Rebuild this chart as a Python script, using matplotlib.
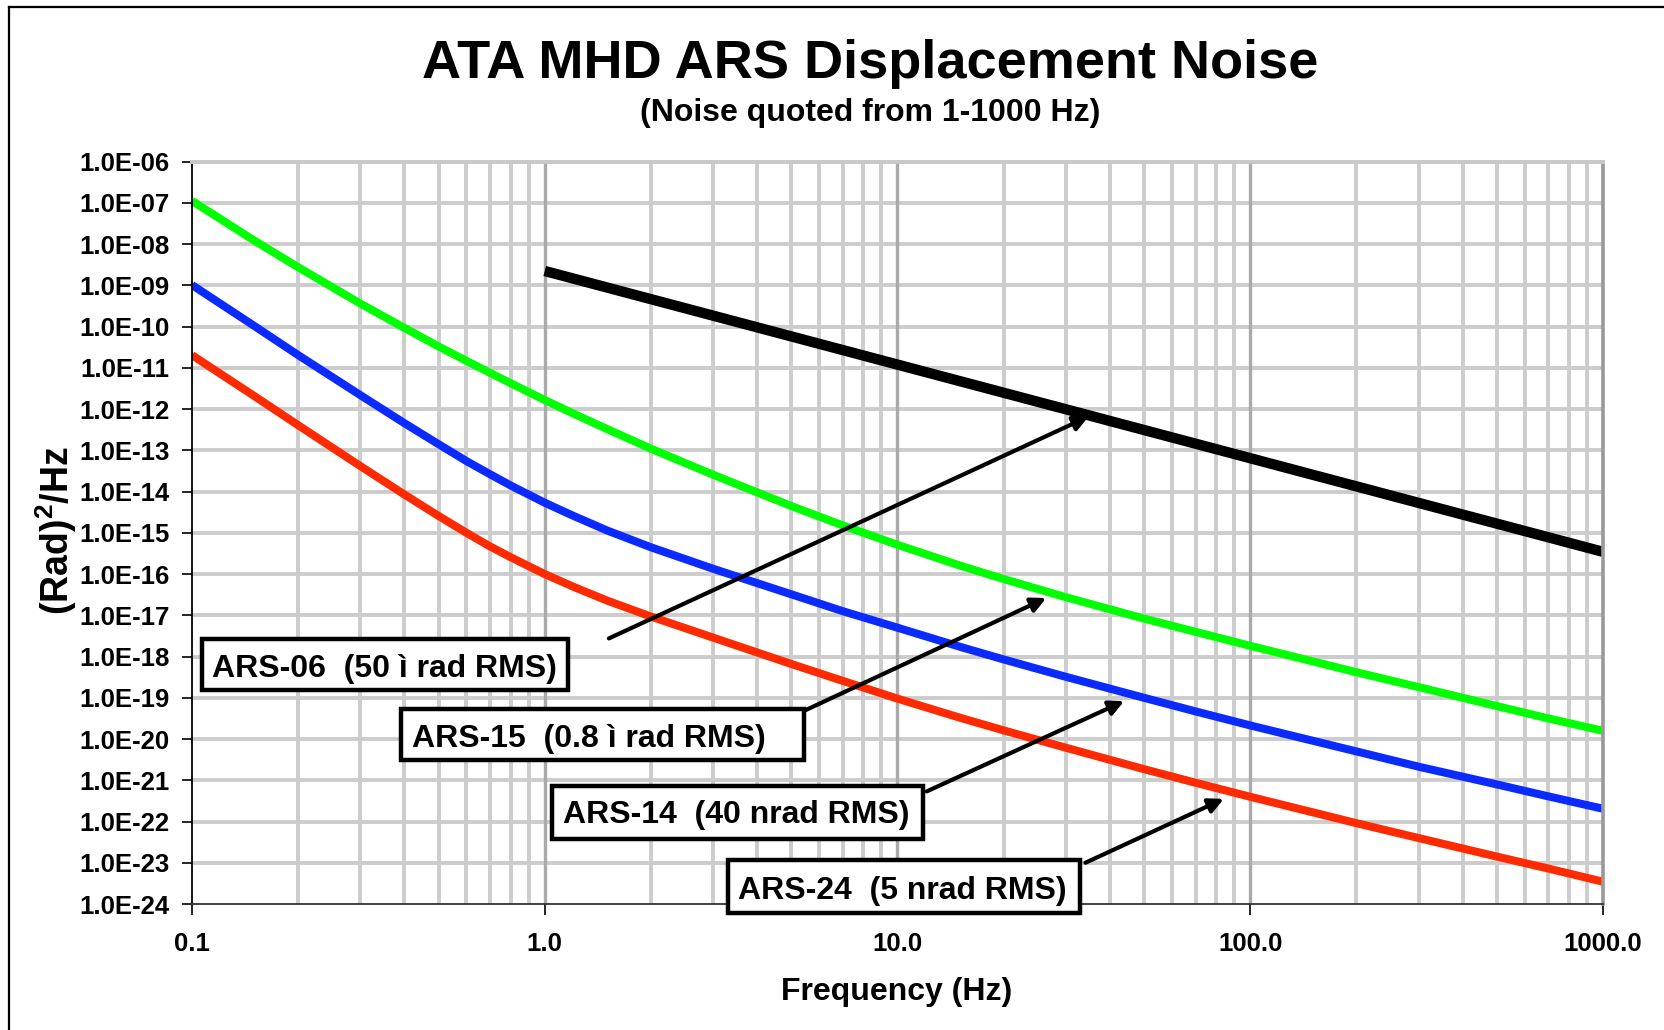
import numpy as np
import matplotlib
matplotlib.use("Agg")
import matplotlib.pyplot as plt
from matplotlib.patches import Rectangle
from matplotlib.lines import Line2D
from matplotlib.ticker import FixedLocator, FixedFormatter, FuncFormatter, NullFormatter

plt.rcParams["font.family"] = ["Liberation Sans", "DejaVu Sans"]
plt.rcParams["font.weight"] = "bold"
plt.rcParams["mathtext.fontset"] = "custom"
plt.rcParams["mathtext.rm"] = "Liberation Sans:bold"
plt.rcParams["mathtext.bf"] = "Liberation Sans:bold"

# ========= data (log10 of PSD) =========

freq = [0.1, 0.15, 0.2, 0.3, 0.4, 0.5, 0.6, 0.7, 0.8, 1, 1.2, 1.5, 2, 3, 5, 7,
        10, 15, 20, 30, 50, 70, 100, 200, 300, 500, 700, 1000]

ars06_freq = [1, 10, 100, 1000]
ars06_log = [-8.65, -10.92, -13.19, -15.46]

ars15_log = [-6.95, -7.91, -8.56, -9.44, -10.03, -10.48, -10.83, -11.12, -11.37,
             -11.78, -12.10, -12.48, -12.96, -13.59, -14.35, -14.82, -15.29,
             -15.79, -16.12, -16.56, -17.08, -17.40, -17.74, -18.38, -18.74,
             -19.20, -19.50, -19.80]
ars14_log = [-8.99, -9.98, -10.69, -11.66, -12.34, -12.85, -13.26, -13.58, -13.85,
             -14.27, -14.58, -14.94, -15.35, -15.87, -16.49, -16.90, -17.30,
             -17.76, -18.07, -18.49, -19.00, -19.33, -19.67, -20.30, -20.67,
             -21.10, -21.39, -21.69]
ars24_log = [-10.69, -11.68, -12.39, -13.38, -14.07, -14.59, -15.00, -15.33, -15.59,
             -16.00, -16.30, -16.64, -17.03, -17.54, -18.18, -18.59, -19.02,
             -19.48, -19.79, -20.21, -20.73, -21.06, -21.40, -22.04, -22.40,
             -22.85, -23.14, -23.46]

x_ticks = [0.1, 1, 10, 100, 1000]
x_labels = ["0.1", "1.0", "10.0", "100.0", "1000.0"]
y_exps = list(range(-24, -5))

labels = ["ARS-06  (50 ì rad RMS)", "ARS-15  (0.8 ì rad RMS)",
          "ARS-14  (40 nrad RMS)", "ARS-24  (5 nrad RMS)"]
# arrow start / end in data coords (freq, log10 psd)
arrow_start = [(1.52, -17.56), (5.36, -19.34), (12.1, -21.27), (34.1, -23.0)]
arrow_end = [(34.8, -12.18), (26.4, -16.58), (43.9, -19.08), (84.1, -21.45)]

# ========= layout (figure pixels) =========
W, H = 1665, 1030
# label boxes: left, top, right, bottom ; text left x, text centre y
boxes = [(202, 639, 568, 690, 212, 665),
         (401, 709, 804, 760, 412, 735),
         (552, 786, 923, 839, 563, 812),
         (728, 860, 1080, 913, 738, 887)]


def fx(px):
    return px / W


def fy(py):
    return 1 - py / H


fig = plt.figure(figsize=(W / 100, H / 100), dpi=100)
ax = fig.add_axes([fx(192), fy(904), fx(1603) - fx(192), fy(161.7) - fy(904)])

ax.set_xscale("log")
ax.set_yscale("log")
ax.set_xlim(0.1, 1000)
ax.set_ylim(1e-24, 1e-6)

# grid
for e in y_exps[1:]:
    ax.axhline(10.0 ** e, color="#cccccc", lw=2.8, zorder=0.5)
for d in [0.1, 1, 10, 100]:
    for m in range(2, 10):
        ax.axvline(d * m, color="#cccccc", lw=2.8, zorder=0.5)
for d in [1, 10, 100]:
    ax.axvline(d, color="#aaaaaa", lw=2.4, zorder=0.6)

ax.plot(freq, 10.0 ** np.array(ars15_log), color="#00ff00", lw=5.8, solid_capstyle="butt", zorder=2)
ax.plot(freq, 10.0 ** np.array(ars14_log), color="#0a2aff", lw=5.8, solid_capstyle="butt", zorder=2)
ax.plot(freq, 10.0 ** np.array(ars24_log), color="#ff2a00", lw=5.8, solid_capstyle="butt", zorder=2)
ax.plot(ars06_freq, 10.0 ** np.array(ars06_log), color="black", lw=7.5, solid_capstyle="butt", zorder=2.1)

# spines
ax.spines["top"].set_color("#c8c8c8")
ax.spines["top"].set_linewidth(2.8)
ax.spines["right"].set_color("#999999")
ax.spines["right"].set_linewidth(2.6)
ax.spines["left"].set_color("black")
ax.spines["left"].set_linewidth(1.3)
ax.spines["bottom"].set_color("#333333")
ax.spines["bottom"].set_linewidth(1.3)

ax.xaxis.set_major_locator(FixedLocator(x_ticks))
ax.xaxis.set_major_formatter(FixedFormatter(x_labels))
ax.xaxis.set_minor_locator(FixedLocator([]))
ax.xaxis.set_minor_formatter(NullFormatter())
ax.yaxis.set_major_locator(FixedLocator([10.0 ** e for e in y_exps]))
ax.yaxis.set_major_formatter(FuncFormatter(lambda v, p: f"{v:.1E}"))
ax.yaxis.set_minor_locator(FixedLocator([]))
ax.yaxis.set_minor_formatter(NullFormatter())
ax.tick_params(axis="x", direction="out", length=8, width=1.2, pad=12, labelsize=18.5)
ax.tick_params(axis="y", direction="out", length=7, width=1.2, pad=9, labelsize=18.5)

# arrows
for (x0, y0), (x1, y1) in zip(arrow_start, arrow_end):
    ax.annotate("", xy=(x1, 10.0 ** y1), xytext=(x0, 10.0 ** y0),
                arrowprops=dict(arrowstyle="-|>", color="black", lw=3,
                                mutation_scale=22, shrinkA=0, shrinkB=0),
                zorder=3)

# label boxes
for text, (l, t, r, b, tx, ty) in zip(labels, boxes):
    fig.add_artist(Rectangle((fx(l), fy(b)), fx(r) - fx(l), fy(t) - fy(b),
                             transform=fig.transFigure, facecolor="white",
                             edgecolor="black", lw=3.2, zorder=5))
    fig.text(fx(tx), fy(ty), text, fontsize=23, fontweight="bold",
             ha="left", va="center_baseline", zorder=6)

# titles and axis labels
fig.text(fx(870), fy(64), "ATA MHD ARS Displacement Noise", fontsize=39,
         fontweight="bold", ha="center", va="center")
fig.text(fx(870), fy(113), "(Noise quoted from 1-1000 Hz)", fontsize=23,
         fontweight="bold", ha="center", va="center")
fig.text(fx(897), fy(992), "Frequency (Hz)", fontsize=23,
         fontweight="bold", ha="center", va="center")
fig.text(fx(56), fy(531), r"(Rad)$^{\mathbf{2}}$/Hz", fontsize=27,
         fontweight="bold", ha="center", va="center", rotation=90)

# outer frame (top and left edge only visible)
fig.add_artist(Line2D([fx(9.5), 1], [fy(6.7), fy(6.7)], color="black", lw=1.6,
                      transform=fig.transFigure))
fig.add_artist(Line2D([fx(9.5), fx(9.5)], [0, fy(6.7)], color="black", lw=1.6,
                      transform=fig.transFigure))

fig.savefig("out.png", dpi=100)
